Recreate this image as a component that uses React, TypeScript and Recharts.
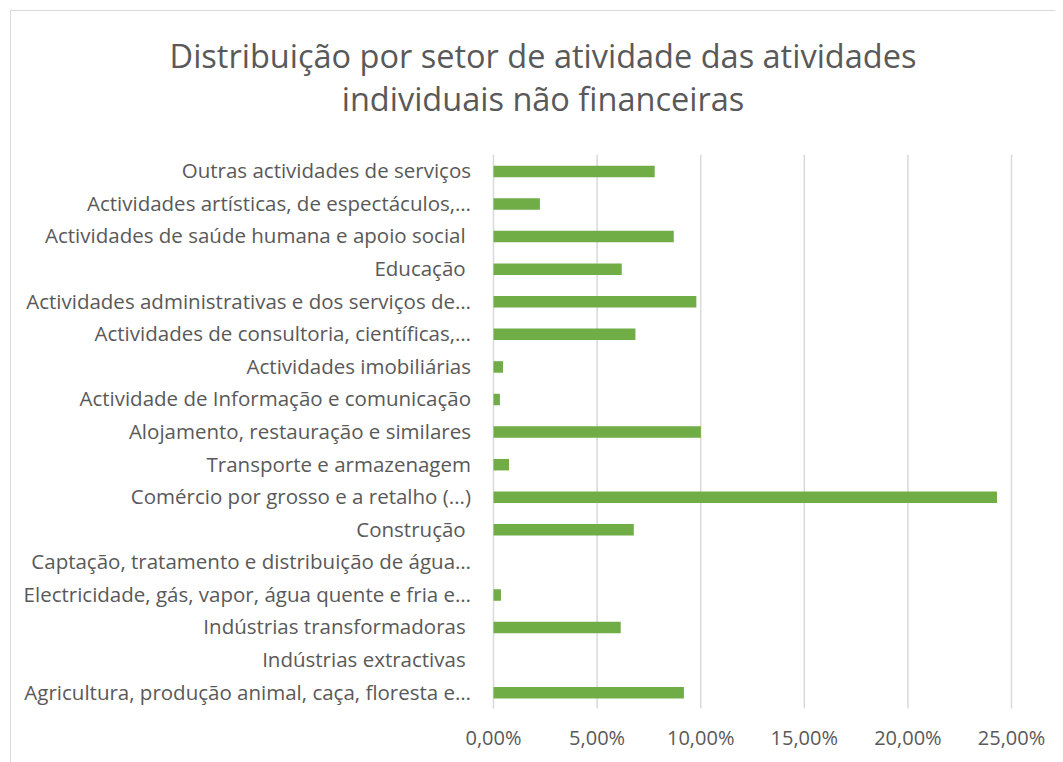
import React from "react";
import { BarChart, Bar, XAxis, YAxis, CartesianGrid } from "recharts";

const NB = "\u00a0";

const categories: string[] = [
  "Outras actividades de serviços",
  "Actividades artísticas, de espectáculos,…",
  "Actividades de saúde humana e apoio social" + NB,
  "Educação" + NB,
  "Actividades administrativas e dos serviços de…",
  "Actividades de consultoria, científicas,…",
  "Actividades imobiliárias",
  "Actividade de Informação e comunicação",
  "Alojamento, restauração e similares",
  "Transporte e armazenagem",
  "Comércio por grosso e a retalho (...)",
  "Construção" + NB,
  "Captação, tratamento e distribuição de água…",
  "Electricidade, gás, vapor, água quente e fria e…",
  "Indústrias transformadoras" + NB,
  "Indústrias extractivas" + NB,
  "Agricultura, produção animal, caça, floresta e…",
];

const shares: number[] = [
  7.78, 2.24, 8.7, 6.19, 9.79, 6.85, 0.46, 0.31, 10.01, 0.75, 24.3, 6.77, 0, 0.36, 6.14, 0, 9.19,
];

const xTicks: number[] = [0, 5, 10, 15, 20, 25];

const titleLines: string[] = [
  "Distribuição por setor de atividade das atividades",
  "individuais não financeiras",
];

const data = categories.map((name, i) => ({ name, value: shares[i] }));

const FONT = "'Open Sans', Lato, sans-serif";
const TEXT = "#595959";

export default function App() {
  return (
    <div style={{ position: "relative", width: 1055, height: 754, overflow: "hidden", fontFamily: FONT }}>
      <div
        style={{
          position: "absolute",
          left: 2,
          top: 2,
          width: 1080,
          height: 780,
          border: "1px solid #d9d9d9",
          boxSizing: "border-box",
        }}
      />
      <div
        style={{
          position: "absolute",
          left: 0,
          top: 26,
          width: 1070,
          textAlign: "center",
          color: TEXT,
          fontSize: 32.5,
          lineHeight: "43px",
        }}
      >
        {titleLines.map((t) => (
          <div key={t}>{t}</div>
        ))}
      </div>
      <div style={{ position: "absolute", left: 0, top: 0 }}>
        <BarChart
          width={1055}
          height={754}
          data={data}
          layout="vertical"
          margin={{ top: 146.7, right: 51.5, bottom: 13.4, left: 0 }}
        >
          <CartesianGrid horizontal={false} stroke="#d9d9d9" strokeWidth={1.5} />
          <XAxis
            type="number"
            domain={[0, 25]}
            ticks={xTicks}
            axisLine={false}
            tickLine={false}
            height={40}
            tickMargin={16}
            tick={{ fill: TEXT, fontSize: 20, fontFamily: FONT }}
            tickFormatter={(v: number) => v.toFixed(2).replace(".", ",") + "%"}
          />
          <YAxis
            type="category"
            dataKey="name"
            width={485.5}
            axisLine={false}
            tickLine={false}
            tickMargin={16.5}
            interval={0}
            tick={{ fill: TEXT, fontSize: 20.5, fontFamily: FONT }}
          />
          <Bar dataKey="value" fill="#70ad47" barSize={11.5} isAnimationActive={false} />
        </BarChart>
      </div>
    </div>
  );
}
